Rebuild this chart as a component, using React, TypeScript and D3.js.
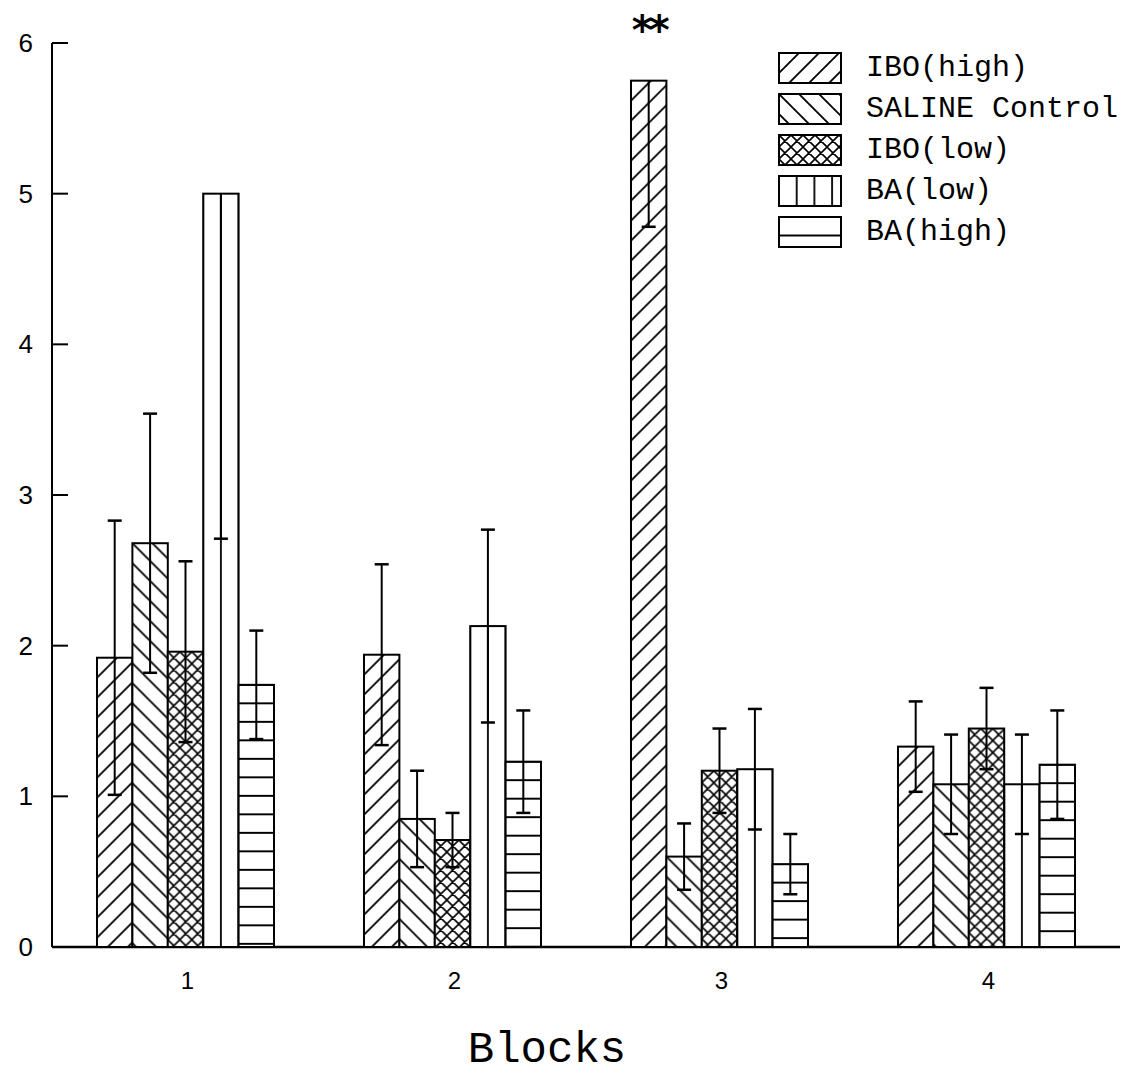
import React, { useEffect, useRef } from 'react';
import * as d3 from 'd3';

// chart values
const blocks = ['1', '2', '3', '4'];
const seriesNames = ['IBO(high)', 'SALINE Control', 'IBO(low)', 'BA(low)', 'BA(high)'];
const hatchTypes = ['fwd', 'back', 'cross', 'vert', 'horiz'];

const iboHighMean = [1.92, 1.94, 5.75, 1.33];
const iboHighErr = [0.91, 0.6, 0.97, 0.3];
const salineMean = [2.68, 0.85, 0.6, 1.08];
const salineErr = [0.86, 0.32, 0.22, 0.33];
const iboLowMean = [1.96, 0.71, 1.17, 1.45];
const iboLowErr = [0.6, 0.18, 0.28, 0.27];
const baLowMean = [5.0, 2.13, 1.18, 1.08];
const baLowErr = [2.29, 0.64, 0.4, 0.33];
const baHighMean = [1.74, 1.23, 0.55, 1.21];
const baHighErr = [0.36, 0.34, 0.2, 0.36];

const yTicks = [0, 1, 2, 3, 4, 5, 6];
const xLabel = 'Blocks';
const starLabel = '**';

const W = 1131;
const H = 1079;

function App() {
  const ref = useRef<SVGSVGElement | null>(null);

  useEffect(() => {
    const means = [iboHighMean, salineMean, iboLowMean, baLowMean, baHighMean];
    const errs = [iboHighErr, salineErr, iboLowErr, baLowErr, baHighErr];

    const svg = d3.select(ref.current);
    svg.selectAll('*').remove();
    const defs = svg.append('defs');

    const left = 52, right = 1120, top = 43, bottom = 947;
    const x0 = d3.scaleBand().domain(blocks).range([left, right])
      .paddingInner(0.337).paddingOuter(0.1685);
    const x1 = d3.scaleBand().domain(seriesNames).range([0, x0.bandwidth()]);
    const y = d3.scaleLinear().domain([0, 6]).range([bottom, top]);
    const bw = x1.bandwidth();

    // hatch pattern anchored at a given top-left corner
    let pid = 0;
    const makePattern = (type: string, px: number, py: number) => {
      const id = `hatch-${pid++}`;
      let tw = 20, th = 20, d = '';
      if (type === 'fwd') {
        d = 'M0,20L20,0M-5,5L5,-5M15,25L25,15';
      } else if (type === 'back') {
        d = 'M0,0L20,20M-5,15L5,25M15,-5L25,5';
      } else if (type === 'cross') {
        tw = 12; th = 12;
        d = 'M0,12L12,0M-3,3L3,-3M9,15L15,9M0,0L12,12M-3,9L3,15M9,-3L15,3';
      } else if (type === 'vert') {
        tw = bw / 2; th = 10;
        d = `M0,0V10M${tw},0V10`;
      } else {
        tw = 10; th = 18.5;
        d = `M0,0H10M0,${th}H10`;
      }
      const p = defs.append('pattern')
        .attr('id', id)
        .attr('patternUnits', 'userSpaceOnUse')
        .attr('x', px).attr('y', py)
        .attr('width', tw).attr('height', th);
      p.append('rect').attr('width', tw).attr('height', th).attr('fill', '#fff');
      p.append('path').attr('d', d).attr('stroke', '#000')
        .attr('stroke-width', type === 'cross' ? 1.6 : 1.8).attr('fill', 'none');
      return `url(#${id})`;
    };

    // axes
    svg.append('line').attr('x1', left).attr('x2', left).attr('y1', top).attr('y2', bottom)
      .attr('stroke', '#000').attr('stroke-width', 2);
    svg.append('line').attr('x1', left).attr('x2', right).attr('y1', bottom).attr('y2', bottom)
      .attr('stroke', '#000').attr('stroke-width', 2.5);

    const yt = svg.append('g');
    yt.selectAll('line').data(yTicks).enter().append('line')
      .attr('x1', left).attr('x2', left + 16)
      .attr('y1', d => y(d)).attr('y2', d => y(d))
      .attr('stroke', '#000').attr('stroke-width', 2);
    yt.selectAll('text').data(yTicks).enter().append('text')
      .attr('x', 33).attr('y', d => y(d) + 9)
      .attr('text-anchor', 'end')
      .attr('font-family', 'Liberation Sans, sans-serif')
      .attr('font-size', 26)
      .text(d => d);

    svg.append('g').selectAll('text').data(blocks).enter().append('text')
      .attr('x', d => (x0(d) as number) + x0.bandwidth() / 2 + 2)
      .attr('y', 989)
      .attr('text-anchor', 'middle')
      .attr('font-family', 'Liberation Sans, sans-serif')
      .attr('font-size', 24)
      .text(d => d);

    // bars
    const barG = svg.append('g');
    const errG = svg.append('g');
    blocks.forEach((b, gi) => {
      seriesNames.forEach((s, si) => {
        const m = means[si][gi];
        const e = errs[si][gi];
        const bx = (x0(b) as number) + (x1(s) as number);
        const by = y(m);
        barG.append('rect')
          .attr('x', bx).attr('y', by)
          .attr('width', bw).attr('height', y(0) - by)
          .attr('fill', makePattern(hatchTypes[si], bx, by))
          .attr('stroke', '#000').attr('stroke-width', 2);

        const cx = bx + bw / 2;
        const lo = y(m - e);
        const showUpper = m + e <= 6;
        const hi = showUpper ? y(m + e) : by;
        errG.append('line').attr('x1', cx).attr('x2', cx).attr('y1', lo).attr('y2', hi)
          .attr('stroke', '#000').attr('stroke-width', 2);
        errG.append('line').attr('x1', cx - 7).attr('x2', cx + 7).attr('y1', lo).attr('y2', lo)
          .attr('stroke', '#000').attr('stroke-width', 2.5);
        if (showUpper) {
          errG.append('line').attr('x1', cx - 7).attr('x2', cx + 7).attr('y1', hi).attr('y2', hi)
            .attr('stroke', '#000').attr('stroke-width', 2.5);
        }
      });
    });

    // significance mark over block 3, IBO(high)
    svg.append('text')
      .attr('x', (x0('3') as number) + (x1(seriesNames[0]) as number) + bw / 2)
      .attr('y', 44)
      .attr('text-anchor', 'middle')
      .attr('font-family', 'DejaVu Sans, sans-serif')
      .attr('font-weight', 'bold')
      .attr('font-size', 40)
      .attr('letter-spacing', -4)
      .text(starLabel);

    // legend
    const lg = svg.append('g');
    seriesNames.forEach((s, i) => {
      const ly = 53 + i * 41;
      lg.append('rect')
        .attr('x', 779).attr('y', ly)
        .attr('width', 62).attr('height', 30)
        .attr('fill', makePattern(hatchTypes[i], 779, ly))
        .attr('stroke', '#000').attr('stroke-width', 2);
      lg.append('text')
        .attr('x', 866).attr('y', ly + 23)
        .attr('font-family', 'Liberation Mono, monospace')
        .attr('font-size', 30)
        .text(s);
    });

    svg.append('text')
      .attr('x', 547).attr('y', 1062)
      .attr('text-anchor', 'middle')
      .attr('font-family', 'Liberation Mono, monospace')
      .attr('font-size', 44)
      .text(xLabel);
  }, []);

  return (
    <svg
      ref={ref}
      width={W}
      height={H}
      style={{ position: 'absolute', left: 0, top: 0, background: '#fff' }}
    />
  );
}

export default App;
